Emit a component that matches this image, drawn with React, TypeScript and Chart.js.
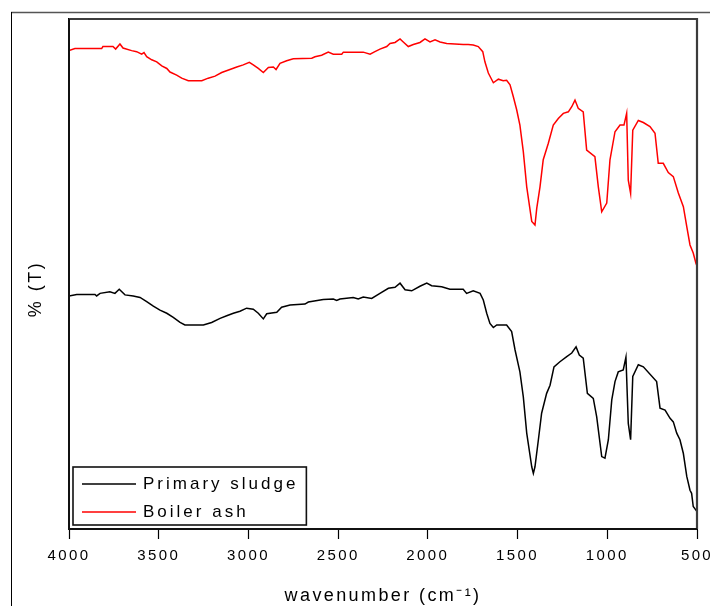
import { useEffect, useRef } from "react";
import { Chart, registerables } from "chart.js";

Chart.register(...registerables);

const FONT = "'Liberation Sans', Arial, Helvetica, sans-serif";

// x axis (wavenumber, cm-1), drawn high to low
const xTicks = [4000, 3500, 3000, 2500, 2000, 1500, 1000, 500];
const xTitle = "wavenumber (cm\u207B\u00B9)";
const yTitle = "% (T)";

const seriesLabels = ["Primary sludge", "Boiler ash"];
const seriesColors = ["#000000", "#ff0000"];

// Primary sludge FTIR spectrum
const sludgeWavenumber = [
  4000, 3957, 3855, 3846, 3827, 3772, 3744, 3720, 3688, 3642,
  3604, 3567, 3530, 3493, 3455, 3419, 3381, 3354, 3251, 3205,
  3158, 3121, 3084, 3047, 3010, 2973, 2945, 2917, 2898, 2842,
  2815, 2768, 2685, 2666, 2583, 2527, 2508, 2490, 2416, 2388,
  2360, 2313, 2267, 2220, 2183, 2155, 2127, 2090, 2044, 2006,
  1979, 1923, 1877, 1803, 1784, 1747, 1709, 1691, 1672, 1654,
  1635, 1616, 1561, 1533, 1514, 1487, 1468, 1449, 1421, 1412,
  1403, 1384, 1366, 1338, 1319, 1297, 1264, 1226, 1198, 1174,
  1156, 1134, 1111, 1078, 1059, 1031, 1013, 994, 975, 957,
  939, 911, 896, 883, 870, 858, 827, 799, 725, 706,
  678, 650, 632, 613, 595, 576, 557, 539, 530, 521,
  506, 500,
];
const sludgeT = [
  45.7, 46.0, 46.0, 45.7, 46.2, 46.5, 46.2, 47.0, 45.9, 45.7,
  45.4, 44.6, 43.7, 42.9, 42.3, 41.5, 40.5, 40.0, 40.0, 40.5,
  41.3, 41.8, 42.3, 42.7, 43.3, 43.1, 42.3, 41.2, 42.2, 42.5,
  43.5, 43.9, 44.1, 44.5, 45.0, 45.1, 44.8, 45.1, 45.4, 45.1,
  45.5, 45.2, 46.2, 47.2, 47.4, 48.2, 46.9, 46.7, 47.6, 48.2,
  47.7, 47.5, 47.0, 47.0, 46.2, 46.7, 46.2, 44.9, 42.3, 40.3,
  39.5, 40.0, 40.0, 38.7, 35.1, 30.8, 25.9, 18.8, 12.2, 10.9,
  12.2, 17.5, 22.7, 26.6, 28.2, 31.8, 32.8, 33.8, 34.5, 35.7,
  34.1, 33.5, 26.6, 25.6, 22.0, 14.2, 13.9, 17.5, 25.3, 28.9,
  30.8, 31.2, 33.7, 20.7, 17.5, 29.9, 32.2, 31.8, 28.9, 23.7,
  23.3, 21.7, 21.0, 18.8, 17.5, 14.8, 10.3, 7.6, 7.0, 4.4,
  3.7, 3.4,
];

// Boiler ash FTIR spectrum
const ashWavenumber = [
  4000, 3967, 3818, 3811, 3755, 3740, 3716, 3699, 3651, 3623,
  3595, 3582, 3567, 3539, 3511, 3483, 3455, 3437, 3400, 3372,
  3335, 3260, 3224, 3186, 3149, 3103, 3065, 3029, 2995, 2973,
  2945, 2917, 2889, 2861, 2846, 2824, 2787, 2750, 2647, 2629,
  2592, 2555, 2527, 2480, 2471, 2434, 2360, 2322, 2295, 2267,
  2229, 2211, 2183, 2155, 2137, 2109, 2081, 2044, 2016, 1988,
  1960, 1932, 1895, 1803, 1775, 1747, 1719, 1694, 1682, 1663,
  1635, 1607, 1580, 1561, 1542, 1524, 1505, 1487, 1468, 1449,
  1421, 1403, 1393, 1375, 1357, 1329, 1301, 1273, 1245, 1217,
  1198, 1180, 1162, 1134, 1115, 1069, 1050, 1031, 1003, 985,
  957, 929, 907, 892, 883, 870, 858, 827, 799, 762,
  734, 716, 688, 660, 632, 604, 576, 557, 539, 521,
  506, 500,
];
const ashT = [
  93.8, 94.2, 94.2, 94.6, 94.6, 94.1, 95.1, 94.3, 93.8, 93.6,
  93.1, 93.4, 92.6, 92.0, 91.6, 90.8, 90.3, 89.6, 89.0, 88.4,
  87.9, 87.9, 88.4, 88.8, 89.5, 90.1, 90.6, 91.0, 91.5, 91.0,
  90.3, 89.5, 90.5, 90.6, 90.1, 91.3, 91.8, 92.2, 92.3, 92.6,
  92.9, 93.5, 93.1, 93.1, 93.5, 93.5, 93.5, 93.1, 93.6, 94.1,
  94.6, 95.2, 95.4, 96.1, 95.5, 94.6, 95.0, 95.4, 96.1, 95.5,
  95.9, 95.5, 95.2, 95.0, 95.0, 94.9, 94.6, 93.6, 91.6, 89.4,
  87.5, 88.2, 87.9, 88.0, 87.1, 84.8, 82.2, 79.2, 74.0, 67.1,
  60.3, 59.6, 62.9, 67.1, 72.4, 75.6, 79.2, 80.5, 81.5, 81.8,
  82.8, 84.1, 82.5, 81.8, 74.3, 73.0, 67.1, 62.2, 63.9, 72.4,
  77.9, 79.2, 79.2, 81.5, 68.4, 65.8, 78.2, 80.1, 79.7, 78.9,
  77.6, 71.7, 71.7, 69.9, 69.1, 65.9, 63.2, 59.3, 55.7, 54.1,
  52.1, 51.6,
];

const toPoints = (xs: number[], ys: number[]) => xs.map((x, i) => ({ x, y: ys[i] }));

// Figure border, plot frame, rotated y title and boxed legend
const decorPlugin = {
  id: "decor",
  beforeDraw(chart: any) {
    const ctx: CanvasRenderingContext2D = chart.ctx;
    ctx.save();
    ctx.strokeStyle = "#555";
    ctx.lineWidth = 1.5;
    ctx.beginPath();
    ctx.moveTo(11, 12.5);
    ctx.lineTo(chart.width, 12.5);
    ctx.stroke();
    ctx.strokeStyle = "#000";
    ctx.lineWidth = 1;
    ctx.beginPath();
    ctx.moveTo(11.5, 12);
    ctx.lineTo(11.5, chart.height);
    ctx.stroke();
    ctx.restore();
    (ctx as any).letterSpacing = "2.4px";
  },
  afterDraw(chart: any) {
    const ctx: CanvasRenderingContext2D = chart.ctx;
    const a = chart.chartArea;
    (ctx as any).letterSpacing = "0px";

    // plot frame
    ctx.save();
    ctx.lineWidth = 2.2;
    ctx.strokeStyle = "#3c3c3c";
    ctx.beginPath();
    ctx.moveTo(a.left, a.top);
    ctx.lineTo(a.right, a.top);
    ctx.lineTo(a.right, a.bottom);
    ctx.stroke();
    ctx.strokeStyle = "#111";
    ctx.lineWidth = 2;
    ctx.beginPath();
    ctx.moveTo(a.left, a.top);
    ctx.lineTo(a.left, a.bottom);
    ctx.lineTo(a.right, a.bottom);
    ctx.stroke();
    ctx.restore();

    // y axis title
    ctx.save();
    ctx.font = `18px ${FONT}`;
    (ctx as any).letterSpacing = "2.5px";
    ctx.fillStyle = "#000";
    ctx.textAlign = "center";
    ctx.textBaseline = "middle";
    ctx.translate(a.left - 33, (a.top + a.bottom) / 2 + 15);
    ctx.rotate(-Math.PI / 2);
    ctx.fillText(yTitle, 0, 0);
    ctx.restore();

    // legend
    ctx.save();
    ctx.font = `17px ${FONT}`;
    (ctx as any).letterSpacing = "3px";
    const labels: string[] = chart.data.datasets.map((d: any) => d.label);
    const textW = Math.max(...labels.map((l) => ctx.measureText(l).width));
    const rowH = 28;
    const sample = 54;
    const boxL = a.left + 4;
    const boxB = a.bottom - 4;
    const boxW = 9 + sample + 7 + textW + 8;
    const boxH = rowH * labels.length + 2;
    const boxT = boxB - boxH;
    ctx.fillStyle = "#fff";
    ctx.fillRect(boxL, boxT, boxW, boxH);
    ctx.strokeStyle = "#111";
    ctx.lineWidth = 1.6;
    ctx.strokeRect(boxL, boxT, boxW, boxH);
    ctx.textAlign = "left";
    ctx.textBaseline = "middle";
    chart.data.datasets.forEach((d: any, i: number) => {
      const cy = boxT + 17 + i * rowH;
      ctx.strokeStyle = d.borderColor;
      ctx.lineWidth = 1.5;
      ctx.beginPath();
      ctx.moveTo(boxL + 9, cy);
      ctx.lineTo(boxL + 9 + sample, cy);
      ctx.stroke();
      ctx.fillStyle = "#000";
      ctx.fillText(d.label, boxL + 9 + sample + 7, cy);
    });
    ctx.restore();
  },
};

export default function App() {
  const canvasRef = useRef<HTMLCanvasElement | null>(null);

  useEffect(() => {
    const canvas = canvasRef.current;
    if (!canvas) return;
    const chart = new Chart(canvas, {
      type: "line",
      data: {
        datasets: [
          {
            label: seriesLabels[0],
            data: toPoints(sludgeWavenumber, sludgeT),
            borderColor: seriesColors[0],
            borderWidth: 1.5,
            pointRadius: 0,
            tension: 0,
            fill: false,
          },
          {
            label: seriesLabels[1],
            data: toPoints(ashWavenumber, ashT),
            borderColor: seriesColors[1],
            borderWidth: 1.5,
            pointRadius: 0,
            tension: 0,
            fill: false,
          },
        ],
      },
      options: {
        responsive: false,
        animation: false,
        devicePixelRatio: 1,
        layout: { padding: { top: 19, right: 13, left: 0, bottom: 0 } },
        plugins: {
          legend: { display: false },
          tooltip: { enabled: false },
        },
        scales: {
          x: {
            type: "linear",
            position: "bottom",
            reverse: true,
            min: 500,
            max: 4000,
            afterBuildTicks: (scale: any) => {
              scale.ticks = xTicks.map((v) => ({ value: v }));
            },
            ticks: {
              callback: (v: any) => String(v),
              color: "#000",
              font: { family: FONT, size: 15 },
              padding: 8,
              maxRotation: 0,
              autoSkip: false,
            },
            grid: {
              display: true,
              drawOnChartArea: false,
              drawTicks: true,
              tickLength: 10,
              tickColor: "#000",
              tickWidth: 1.2,
            },
            border: { display: true, color: "#000", width: 2 },
            title: {
              display: true,
              text: xTitle,
              color: "#000",
              font: { family: FONT, size: 18, lineHeight: 1 },
              padding: { top: 0, bottom: 1 },
            },
            afterFit: (scale: any) => {
              scale.height = 77;
              scale.paddingLeft = 0;
              scale.paddingRight = 0;
            },
          },
          y: {
            type: "linear",
            min: 0,
            max: 100,
            ticks: { display: false },
            grid: { display: false },
            border: { display: true, color: "#000", width: 2 },
            afterFit: (scale: any) => {
              scale.width = 69;
              scale.paddingTop = 0;
              scale.paddingBottom = 0;
            },
          },
        },
      },
      plugins: [decorPlugin],
    });
    return () => chart.destroy();
  }, []);

  return (
    <div style={{ position: "absolute", left: 0, top: 0, width: 710, height: 606, background: "#fff" }}>
      <canvas ref={canvasRef} width={710} height={606} style={{ display: "block" }} />
    </div>
  );
}
